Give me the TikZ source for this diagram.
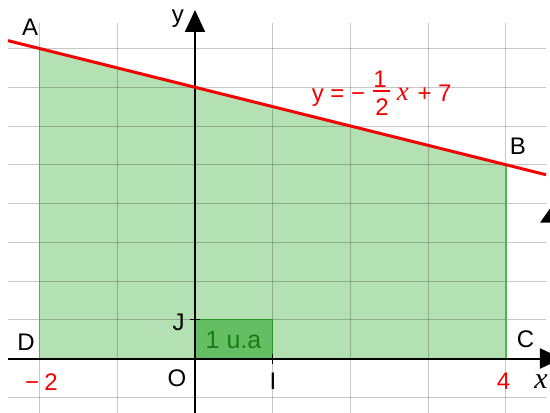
\documentclass[tikz,border=0pt]{standalone}
\usepackage{fontspec}
\setmainfont{Liberation Sans}
\newfontfamily\timesfont{Liberation Serif}
\usetikzlibrary{arrows.meta}
\definecolor{regfill}{RGB}{180,225,180}
\definecolor{regedge}{RGB}{80,180,80}
\definecolor{sqfill}{RGB}{100,190,100}
\definecolor{sqedge}{RGB}{40,150,40}
\definecolor{sqtext}{RGB}{25,125,25}
\definecolor{eqred}{RGB}{245,0,0}
\tikzset{
  gridline/.style={black, opacity=0.22, line width=1pt},
  axisline/.style={black, line width=2pt, -{Triangle[length=22pt,width=20pt]}},
  lbl/.style={font=\fontsize{24}{28}\selectfont, inner sep=0pt, anchor=base},
  redlbl/.style={lbl, text=eqred},
  eqpart/.style={lbl, text=eqred},
  tickmark/.style={black, line width=1.2pt},
}
\begin{document}
\begin{tikzpicture}[x=77.75pt,y=38.75pt]
\useasboundingbox (-2.508,-1.381) rectangle (4.566,9.252);
% region
\coordinate (A) at (-2,8);
\coordinate (B) at (4,5);
\coordinate (C) at (4,0);
\coordinate (D) at (-2,0);
\fill[regfill] (D) -- (C) -- (B) -- (A) -- cycle;
% grid
\foreach \x in {-2,...,4} \draw[gridline] (\x,-1.45) -- (\x,8.658);
\foreach \y in {-1,...,8} \draw[gridline] (-2.405,\y) -- (4.514,\y);
\draw[regedge, line width=1.6pt] (D) -- (A) (C) -- (B);
% unit square
\coordinate (O) at (0,0);
\coordinate (K) at (1,1);
\draw[sqedge, fill=sqfill, line width=1pt] (O) rectangle (K);
\node[lbl, text=sqtext, font=\fontsize{25}{29}\selectfont] (ua) at (0.495,0.271) {1 u.a};
% axes
\coordinate (xs) at (-2.405,0);
\coordinate (xe) at (4.72,0);
\coordinate (ys) at (0,-1.45);
\coordinate (ye) at (0,8.994);
\draw[axisline] (xs) -- (xe);
\draw[axisline] (ys) -- (ye);
% ticks
\coordinate (J) at (0,1);
\coordinate (I) at (1,0);
\draw[tickmark] ([xshift=-5pt]J) -- ([xshift=5pt]J);
\draw[tickmark] ([yshift=-5pt]I) -- ([yshift=5pt]I);
% stray arrowhead at right edge
\fill[black] (4.437,3.504) -- (4.59,3.94) -- (4.59,3.504) -- cycle;
% red line
\coordinate (Ls) at (-2.405,8.2025);
\coordinate (Le) at (4.514,4.743);
\draw[eqred, line width=3pt] (Ls) -- (Le);
% labels
\node[lbl] (lA) at (-2.122,8.348) {A};
\node[lbl] (lB) at (4.154,5.252) {B};
\node[lbl] (lC) at (4.251,0.297) {C};
\node[lbl] (lD) at (-2.174,0.194) {D};
\node[lbl] (lO) at (-0.232,-0.735) {O};
\node[lbl] (lJ) at (-0.212,0.735) {J};
\node[lbl] (lI) at (1.003,-0.787) {I};
\node[lbl] (ly) at (-0.219,8.684) {y};
\node[lbl, font=\fontsize{30}{34}\timesfont\itshape] (lx) at (4.45,-0.761) {x};
\node[redlbl] (m2) at (-1.974,-0.813) {−\hspace{0.22em}2};
\node[redlbl] (l4) at (3.968,-0.787) {4};
% equation
\node[eqpart, anchor=base west] (eq1) at (1.50,6.645) {y = −};
\node[eqpart] (num) at (2.379,7.006) {1};
\coordinate (fb1) at (2.289,6.903);
\coordinate (fb2) at (2.508,6.903);
\draw[eqred, line width=1.6pt] (fb1) -- (fb2);
\node[eqpart] (den) at (2.405,6.284) {2};
\node[eqpart, font=\fontsize{27}{31}\timesfont\itshape] (eqx) at (2.675,6.658) {x};
\node[eqpart, anchor=base west] (eq2) at (2.86,6.63) {+ 7};
\end{tikzpicture}
\end{document}
